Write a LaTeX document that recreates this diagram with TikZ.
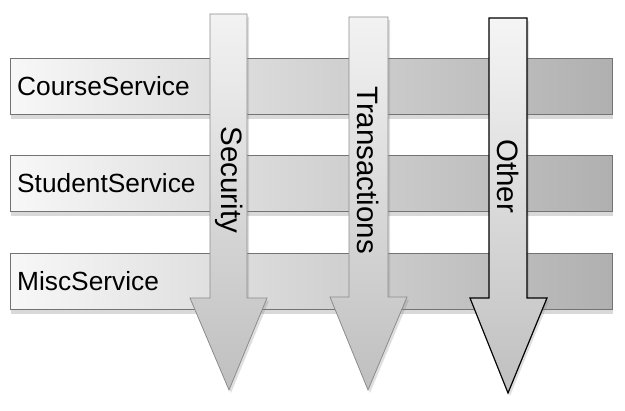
\documentclass[tikz,border=0pt]{standalone}
\usepackage{fontspec}
\setmainfont{Liberation Sans}
\usetikzlibrary{shadows}
\begin{document}
\begin{tikzpicture}[x=1pt,y=-1pt,
  bar/.style={draw=black!55, line width=0.8pt, inner sep=0pt, anchor=north west,
    minimum height=56pt, minimum width=602pt,
    left color=gray!6, right color=gray!62,
    drop shadow={shadow xshift=1pt,shadow yshift=-5pt,opacity=0.3}},
  barlabel/.style={anchor=west, inner sep=0pt, font=\fontsize{26.3}{31}\selectfont},
  grayarrow/.style={draw=black!45, line width=0.8pt, top color=gray!10, bottom color=gray!50,
    drop shadow={shadow xshift=2pt,shadow yshift=-3pt,opacity=0.25}},
  blackarrow/.style={draw=black, line width=1.2pt, top color=gray!8, bottom color=gray!50,
    drop shadow={shadow xshift=2pt,shadow yshift=-3pt,opacity=0.25}},
  arrowlabel/.style={rotate=-90, inner sep=0pt, font=\fontsize{29.5}{34}\selectfont}]
\useasboundingbox (0,0) rectangle (625,411);
% service bars
\node[bar] (course)  at (10,58)  {};
\node[bar] (student) at (10,155) {};
\node[bar] (misc)    at (10,253) {};
\node[barlabel] (courseL)  at (17,86)  {CourseService};
\node[barlabel] (studentL) at (17,183) {StudentService};
\node[barlabel] (miscL)    at (17,281) {MiscService};
% aspect arrows
\draw[grayarrow] (210,14) -- (247,14) -- (247,298) -- (267,298) -- (229,390)
  -- (190,298) -- (210,298) -- cycle;
\draw[grayarrow] (349,17) -- (388,17) -- (388,297) -- (407,297) -- (368,390)
  -- (330,297) -- (349,297) -- cycle;
\draw[blackarrow] (489,18) -- (527,18) -- (527,298) -- (547,298) -- (508,393)
  -- (470,298) -- (489,298) -- cycle;
\node[arrowlabel] (sec)   at (229,180) {Security};
\node[arrowlabel] (trans) at (368,170) {Transactions};
\node[arrowlabel] (other) at (508,176) {Other};
\end{tikzpicture}
\end{document}
